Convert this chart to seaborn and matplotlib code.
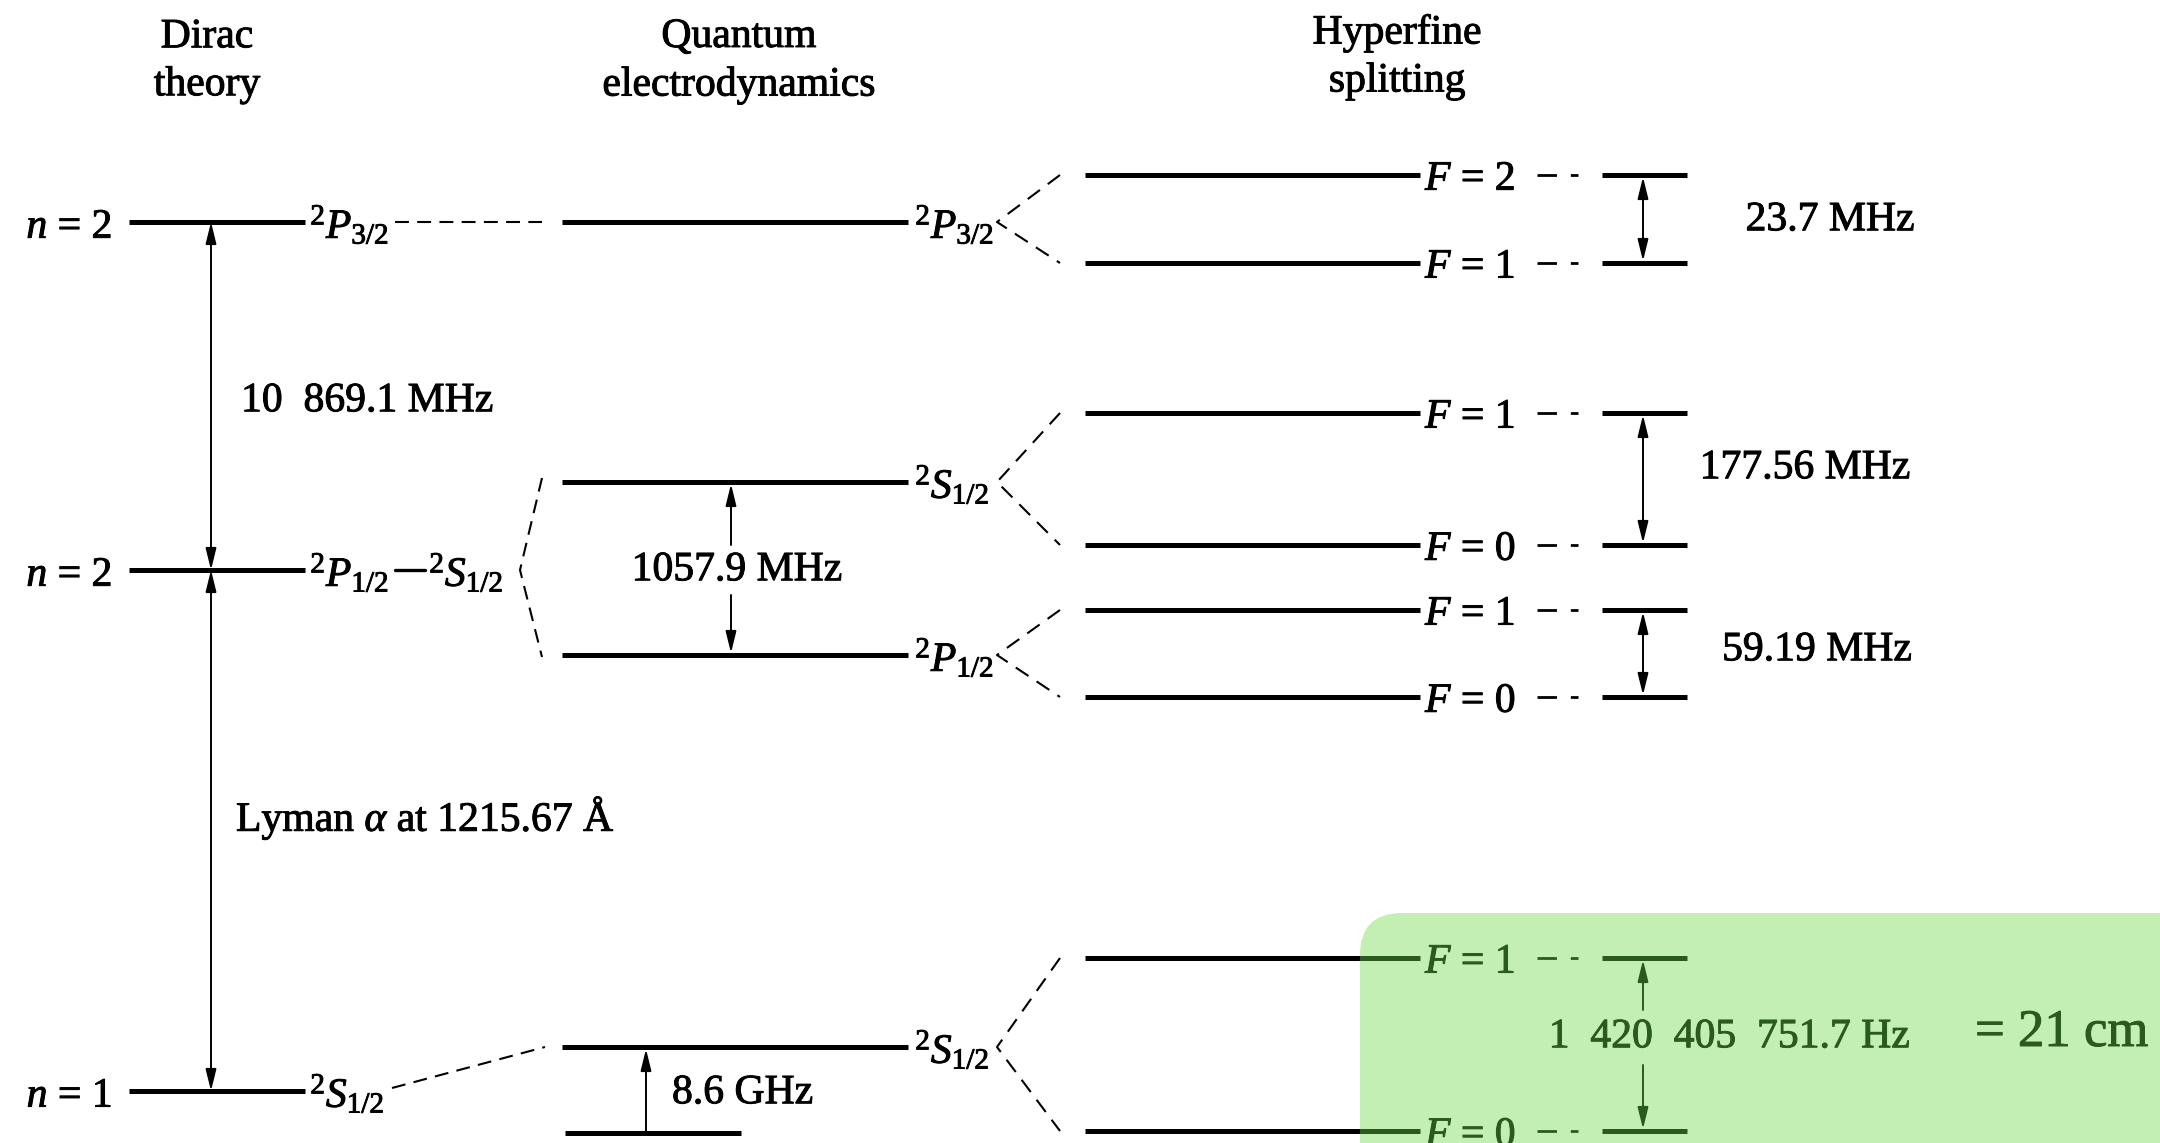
import matplotlib
matplotlib.use("Agg")
import matplotlib.pyplot as plt
import matplotlib.patheffects as pe
import numpy as np
import pandas as pd
import seaborn as sns
from matplotlib.patches import FancyBboxPatch

# ---------------- data ----------------
column_titles = ["Dirac\ntheory", "Quantum\nelectrodynamics", "Hyperfine\nsplitting"]

dirac_n_labels = [r"$n$ = 2", r"$n$ = 2", r"$n$ = 1"]
dirac_terms = [r"$^{2}P_{3/2}$", r"$^{2}P_{1/2}$", r"$^{2}S_{1/2}$"]
dirac_level = [222, 570, 1091]          # schematic level heights (diagram units, downward)

qed_terms = [r"$^{2}P_{3/2}$", r"$^{2}S_{1/2}$", r"$^{2}P_{1/2}$", r"$^{2}S_{1/2}$"]
qed_level = [222, 482, 655, 1047]
qed_parent = [0, 1, 1, 2]
ground_base_level = 1133

hf_F = [2, 1, 1, 0, 1, 0, 1, 0]
hf_level = [175, 263, 413, 545, 610, 697, 958, 1131]
hf_parent = [0, 0, 1, 1, 2, 2, 3, 3]

dirac_gap_labels = ["10  869.1 MHz", "Lyman $\\alpha$ at 1215.67 Å"]
lamb_shift_label = "1057.9 MHz"
ground_shift_label = "8.6 GHz"
hf_gap_labels = ["23.7 MHz", "177.56 MHz", "59.19 MHz", "1  420  405  751.7 Hz"]
wavelength_label = "= 21 cm"

# ---------------- layout / style ----------------
W, H = 2160, 1143
DIRAC_X = (129, 305)
QED_X = (562, 908)
GROUND_BASE_X = (565, 741)
HF_X = (1085, 1420)
SHORT_X = (1602, 1687)
BOX_X, BOX_Y = 1360, 913
INK = "black"
GREEN_INK = "#2b5a1e"
GREEN_FILL = "#c4efb2"
FS = 30
LEVEL_LW = 3.6

sns.set_theme(style="white")
plt.rcParams["font.family"] = ["Liberation Serif", "DejaVu Serif"]
plt.rcParams["mathtext.fontset"] = "custom"
plt.rcParams["mathtext.rm"] = "Liberation Serif"
plt.rcParams["mathtext.it"] = "Liberation Serif:italic"
plt.rcParams["lines.scale_dashes"] = False

fig = plt.figure(figsize=(W / 100, H / 100), dpi=100)
ax = fig.add_axes([0, 0, 1, 1])

# green highlight box for the 21 cm line
ax.add_patch(FancyBboxPatch((BOX_X, BOX_Y), 1000, 500,
                            boxstyle="round,pad=0,rounding_size=42",
                            fc=GREEN_FILL, ec="none", zorder=0))

# ---------------- level segments through seaborn ----------------
rows = []
seg = 0
def add_seg(x0, x1, y, ink):
    global seg
    rows.append((seg, x0, y, ink))
    rows.append((seg, x1, y, ink))
    seg += 1

for y in dirac_level:
    add_seg(*DIRAC_X, y, "k")
for y in qed_level:
    add_seg(*QED_X, y, "k")
add_seg(*GROUND_BASE_X, ground_base_level, "k")
for y, p in zip(hf_level, hf_parent):
    if p == 3:
        add_seg(HF_X[0], BOX_X, y, "k")
        add_seg(BOX_X, HF_X[1], y, "g")
        add_seg(*SHORT_X, y, "g")
    else:
        add_seg(*HF_X, y, "k")
        add_seg(*SHORT_X, y, "k")

levels = pd.DataFrame(rows, columns=["seg", "x", "y", "ink"])
for ink, sub in levels.groupby("ink"):
    sns.lineplot(data=sub, x="x", y="y", units="seg", estimator=None, sort=False,
                 color=INK if ink == "k" else GREEN_INK, linewidth=LEVEL_LW,
                 solid_capstyle="butt", legend=False, ax=ax, zorder=3)

# ---------------- helpers ----------------
def dashed(xs, ys, color=INK, dash=(9, 6), lw=1.5):
    ln, = ax.plot(xs, ys, color=color, lw=lw, zorder=2)
    ln.set_dashes(dash)
    return ln

def arrow(x, y_from, y_to, both=True, color=INK):
    style = "<|-|>" if both else "-|>"
    ax.annotate("", xy=(x, y_to), xytext=(x, y_from),
                arrowprops=dict(arrowstyle=style + ",head_length=0.65,head_width=0.16",
                                lw=1.4, color=color, shrinkA=0, shrinkB=0,
                                mutation_scale=20), zorder=4)

def label(x, y, s, ha="left", va="baseline", color=INK, size=FS, **kw):
    t = ax.text(x, y, s, ha=ha, va=va, color=color, fontsize=size, zorder=5, **kw)
    t.set_path_effects([pe.withStroke(linewidth=0.7, foreground=color)])
    return t

# ---------------- column titles ----------------
title_x = [207, 739, 1397]
title_y = [61, 61, 57]
for t, x, y in zip(column_titles, title_x, title_y):
    label(x, y, t, ha="center", va="center", linespacing=1.32,
          multialignment="center")

# ---------------- Dirac column ----------------
for y, nlab in zip(dirac_level, dirac_n_labels):
    label(112, y + 16, nlab, ha="right")
label(310, dirac_level[0] + 16, dirac_terms[0])
label(310, dirac_level[1] + 16, dirac_terms[1])
ax.plot([395, 425], [dirac_level[1], dirac_level[1]], color=INK, lw=2.4, zorder=3)
label(429, dirac_level[1] + 16, r"$^{2}S_{1/2}$")
label(310, dirac_level[2] + 16, dirac_terms[2])

arrow(211, dirac_level[1], dirac_level[0])
arrow(211, dirac_level[2], dirac_level[1])
label(241, 401, dirac_gap_labels[0], va="center")
label(236, 818, dirac_gap_labels[1], va="center")

# Dirac -> QED connectors
dashed([395, 542], [qed_level[0], qed_level[0]], dash=(10, 6))
dashed([542, 520, 542], [qed_level[1] - 4, dirac_level[1], qed_level[2] + 2], dash=(10, 6))
dashed([392, 545], [dirac_level[2] - 3, qed_level[3]], dash=(10, 6))

# ---------------- QED column ----------------
for y, t in zip(qed_level, qed_terms):
    label(915, y + 16, t)

arrow(731, 545, qed_level[1] + 2, both=False)
arrow(731, 595, qed_level[2] - 2, both=False)
label(737, 570, lamb_shift_label, ha="center", va="center")
arrow(646, ground_base_level - 2, qed_level[3] + 2, both=False)
label(672, 1093, ground_shift_label, va="center")

# QED -> hyperfine fans
for qi, qy in enumerate(qed_level):
    kids = [hy for hy, p in zip(hf_level, hf_parent) if p == qi]
    dashed([1060, 997, 1060], [kids[0], qy, kids[1]], dash=(11, 7))

# ---------------- hyperfine column ----------------
for y, F, p in zip(hf_level, hf_F, hf_parent):
    c = GREEN_INK if p == 3 else INK
    label(1425, y + 15, rf"$F$ = {F}", color=c)
    dashed([1537, 1578], [y, y], color=c, dash=(14, 10), lw=2.0)

pairs = [(hf_level[i], hf_level[i + 1]) for i in range(0, len(hf_level), 2)]
for (ya, yb) in pairs[:3]:
    arrow(1643, yb - 2, ya + 2)
arrow(1643, 1010, pairs[3][0] + 2, both=False, color=GREEN_INK)
arrow(1643, 1065, pairs[3][1] - 2, both=False, color=GREEN_INK)

gap_label_xy = [(1830, 220), (1805, 468), (1817, 650), (1729, 1037)]
for (x, y), s, p in zip(gap_label_xy, hf_gap_labels, range(4)):
    label(x, y, s, ha="center", va="center", color=GREEN_INK if p == 3 else INK)
label(1975, 1033, wavelength_label, va="center", color=GREEN_INK, size=38)

ax.set_xlim(0, W)
ax.set_ylim(H, 0)
ax.set_axis_off()
fig.savefig("out.png", dpi=100, facecolor="white")
